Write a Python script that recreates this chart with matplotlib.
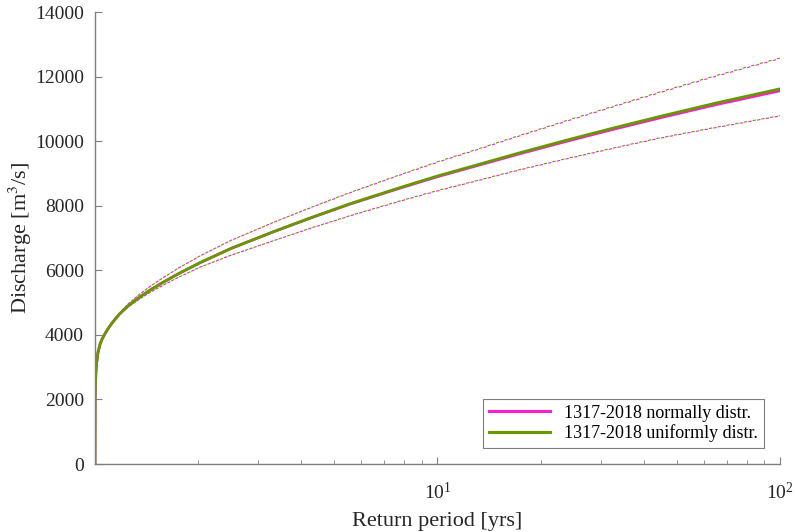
import numpy as np
import matplotlib
matplotlib.use('Agg')
import matplotlib.pyplot as plt
from matplotlib.ticker import FixedLocator, LogLocator, NullFormatter

plt.rcParams['font.family'] = ['Liberation Serif', 'DejaVu Serif']
plt.rcParams['mathtext.fontset'] = 'stix'

# return periods [yrs]
T = [1.0, 1.001, 1.003, 1.006, 1.0115, 1.02, 1.035, 1.05, 1.07, 1.09, 1.12, 1.18,
     1.25, 1.35, 1.45, 1.57, 1.75, 2.03, 2.5, 3.35, 4.3, 5.55, 7.77, 10, 13.5, 17.4,
     24, 33, 45, 65, 100]

# discharge [m3/s], uniformly distributed
q_unif = [0, 2000, 2500, 2850, 3150, 3450, 3720, 3880, 4040, 4180, 4360, 4650,
          4900, 5170, 5390, 5610, 5890, 6240, 6680, 7210, 7640, 8060, 8560, 8920,
          9310, 9640, 10040, 10420, 10775, 11180, 11620]
q_unif_hi = [0, 2000, 2500, 2850, 3150, 3450, 3720, 3880, 4040, 4180, 4370, 4680,
             4960, 5260, 5505, 5750, 6065, 6450, 6930, 7500, 7960, 8410, 8960, 9360,
             9800, 10180, 10650, 11100, 11535, 12030, 12575]
q_unif_lo = [0, 2000, 2500, 2850, 3150, 3450, 3720, 3880, 4040, 4180, 4350, 4630,
             4860, 5110, 5320, 5520, 5780, 6100, 6470, 6930, 7320, 7690, 8150, 8470,
             8820, 9120, 9470, 9800, 10110, 10430, 10790]

# discharge [m3/s], normally distributed
q_norm = [0, 2000, 2500, 2850, 3150, 3450, 3720, 3880, 4040, 4180, 4360, 4650,
          4900, 5170, 5390, 5610, 5890, 6240, 6680, 7210, 7635, 8050, 8545, 8900,
          9285, 9610, 10005, 10380, 10730, 11130, 11560]
q_norm_hi = [0, 2000, 2500, 2850, 3150, 3450, 3720, 3880, 4040, 4180, 4370, 4680,
             4960, 5260, 5505, 5750, 6065, 6450, 6930, 7500, 7955, 8400, 8950, 9345,
             9785, 10165, 10630, 11080, 11515, 12010, 12555]
q_norm_lo = [0, 2000, 2500, 2850, 3150, 3450, 3720, 3880, 4040, 4180, 4350, 4630,
             4860, 5110, 5320, 5520, 5780, 6100, 6470, 6930, 7315, 7685, 8140, 8460,
             8810, 9110, 9460, 9790, 10100, 10420, 10780]

c_norm = '#ff1ccc'
c_unif = '#669900'

fig = plt.figure(figsize=(7.95, 5.32), dpi=100)
ax = fig.add_axes([0.1195, 0.1278, 0.8615, 0.8496])

dash_n = (0, (3, 5))
dash_u = (4, (3, 5))
ax.plot(T, q_norm_hi, color=c_norm, lw=0.8, ls=dash_n)
ax.plot(T, q_norm_lo, color=c_norm, lw=0.8, ls=dash_n)
ax.plot(T, q_unif_hi, color=c_unif, lw=0.8, ls=dash_u)
ax.plot(T, q_unif_lo, color=c_unif, lw=0.8, ls=dash_u)
ax.plot(T, q_norm, color=c_norm, lw=2.0, label='1317-2018 normally distr.')
ax.plot(T, q_unif, color=c_unif, lw=2.0, label='1317-2018 uniformly distr.')

ax.set_xscale('log')
ax.set_xlim(1, 100)
ax.set_ylim(0, 14000)
ax.xaxis.set_major_locator(FixedLocator([10, 100]))
ax.xaxis.set_minor_locator(LogLocator(base=10, subs=np.arange(2, 10)))
ax.xaxis.set_minor_formatter(NullFormatter())
ax.set_yticks(np.arange(0, 14001, 2000))

for s in ['top', 'right']:
    ax.spines[s].set_visible(False)
for s in ['left', 'bottom']:
    ax.spines[s].set_color('#7f7f7f')
    ax.spines[s].set_linewidth(1.0)

ax.tick_params(which='both', direction='in', colors='#7f7f7f', labelcolor='#262626',
               labelsize=14)
ax.tick_params(which='major', length=5)
ax.tick_params(which='minor', length=3)
ax.tick_params(axis='x', which='major', pad=13)
ax.tick_params(axis='y', pad=8)

ax.set_xlabel('Return period [yrs]', fontsize=16, color='#262626', labelpad=6)
ax.set_ylabel('Discharge [m$^3$/s]', fontsize=16, color='#262626', labelpad=1)

leg = ax.legend(loc='lower right', fontsize=13, handlelength=3.4, fancybox=False,
                framealpha=1, edgecolor='#7f7f7f', borderpad=0.3, labelspacing=0.15,
                borderaxespad=0.9)
leg.get_frame().set_linewidth(0.8)
for line in leg.get_lines():
    line.set_linewidth(2.2)

fig.savefig('out.png', dpi=100)
